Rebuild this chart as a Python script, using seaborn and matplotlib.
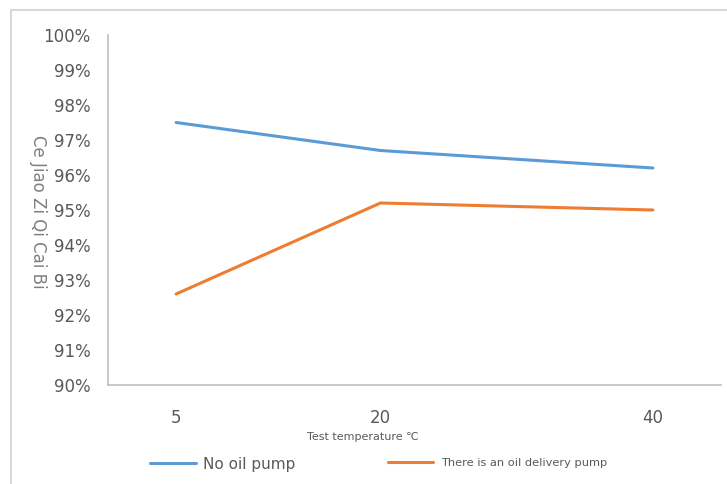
import matplotlib
matplotlib.use("Agg")
import matplotlib.pyplot as plt
from matplotlib.patches import Rectangle
from matplotlib.ticker import PercentFormatter, FixedLocator
import pandas as pd
import seaborn as sns

# Test temperatures (°C) and the measured ratio for each setup (%)
temperatures = [5, 20, 40]
no_pump = [97.5, 96.7, 96.2]
with_pump = [92.6, 95.2, 95.0]
series_names = ["No oil pump", "There is an oil delivery pump"]
y_ticks = [90, 91, 92, 93, 94, 95, 96, 97, 98, 99, 100]

df = pd.DataFrame({
    "temperature": temperatures * 2,
    "ratio": no_pump + with_pump,
    "setup": [series_names[0]] * len(temperatures) + [series_names[1]] * len(temperatures),
})

sns.set_theme(style="white")
plt.rcParams["font.family"] = ["DejaVu Sans", "Noto Sans CJK SC"]

fig = plt.figure(figsize=(7.27, 4.84), dpi=100)
ax = fig.add_axes([108 / 727, 1 - 385 / 484, 613 / 727, 350 / 484])

palette = {series_names[0]: "#5B9BD5", series_names[1]: "#ED7D31"}
sns.lineplot(data=df, x="temperature", y="ratio", hue="setup", palette=palette,
             linewidth=2.2, ax=ax, legend=True)

ax.set_xlim(0, 45)
ax.set_ylim(90, 100)
ax.xaxis.set_major_locator(FixedLocator(temperatures))
ax.yaxis.set_major_locator(FixedLocator(y_ticks))
ax.yaxis.set_major_formatter(PercentFormatter(decimals=0))

tick_color = "#595959"
ax.tick_params(axis="y", length=0, pad=12.5, labelsize=12, labelcolor=tick_color)
ax.tick_params(axis="x", length=0, pad=17, labelsize=12, labelcolor=tick_color)

for side in ("top", "right"):
    ax.spines[side].set_visible(False)
for side in ("left", "bottom"):
    ax.spines[side].set_color("#bfbfbf")
    ax.spines[side].set_linewidth(1.2)

ax.set_xlabel("Test temperature ℃", fontsize=8, color=tick_color)
ax.xaxis.label.set_va("center")
ax.xaxis.set_label_coords(0.416, -0.149)

ax.set_ylabel("Ce Jiao Zi Qi Cai Bi", fontsize=12, color="#7f7f7f", rotation=-90)
ax.yaxis.label.set_va("center")
ax.yaxis.set_label_coords(-0.114, 0.494)

# Legend entries placed separately, each with its own text size
handles, labels = ax.get_legend_handles_labels()
ax.get_legend().remove()
leg1 = fig.legend([handles[0]], [labels[0]], loc="center left",
                  bbox_to_anchor=(150 / 727, 1 - 464 / 484), frameon=False,
                  fontsize=11, handlelength=3.0, handletextpad=0.5,
                  borderpad=0, borderaxespad=0)
leg2 = fig.legend([handles[1]], [labels[1]], loc="center left",
                  bbox_to_anchor=(388 / 727, 1 - 463 / 484), frameon=False,
                  fontsize=8.2, handlelength=3.95, handletextpad=0.7,
                  borderpad=0, borderaxespad=0)
for leg in (leg1, leg2):
    for t in leg.get_texts():
        t.set_color(tick_color)

# Chart area frame
fig.patches.append(Rectangle((11 / 727, -0.1), 1.2, 1 - 10 / 484 + 0.1,
                             transform=fig.transFigure, fill=False,
                             edgecolor="#d9d9d9", linewidth=1.5))

fig.savefig("out.png", dpi=100)
